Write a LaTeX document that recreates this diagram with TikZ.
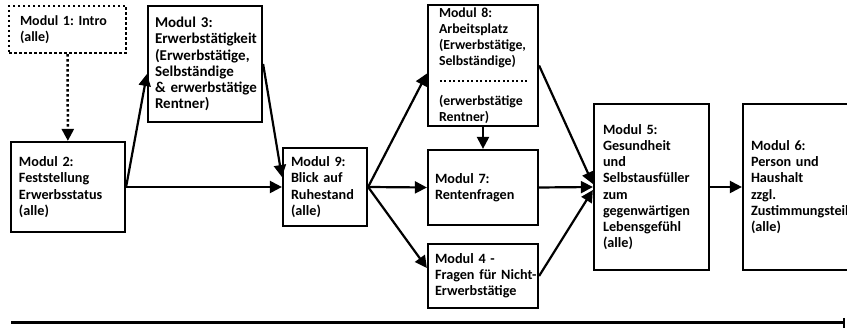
\documentclass[tikz,border=0pt]{standalone}
\usepackage{fontspec}
\setmainfont{Carlito}
\usetikzlibrary{arrows.meta, calc}

\newcommand{\modfont}[1]{\fontsize{#1}{16.2}\selectfont\bfseries\frenchspacing\hyphenpenalty=10000\exhyphenpenalty=10000}

\tikzset{
  modul/.style={draw, line width=2.2pt, align=left, inner xsep=8pt, inner ysep=0pt,
    font=\modfont{14.2}},
  punktiert/.style={line width=2.5pt, dash pattern=on 2.5pt off 2.5pt},
  pfeil/.style={line width=2.2pt, -{Triangle[length=12pt, width=12pt]}},
}

\begin{document}
\begin{tikzpicture}[x=1pt, y=-1pt]
  \clip (0,0) rectangle (847,328);
  % Module
  \node[modul, punktiert, minimum width=117, minimum height=47, text width=95, inner xsep=11pt, font=\modfont{14}] (m1) at (67.5,29.5) {Modul 1: Intro\\(alle)};
  \node[modul, minimum width=114, minimum height=90, text width=98] (m2) at (68,187) {Modul 2:\\Feststellung\\Erwerbsstatus\\(alle)};
  \node[modul, minimum width=114, minimum height=116, text width=100, inner xsep=7pt, font=\modfont{15}] (m3) at (205,64) {Modul 3:\\Erwerbstätigkeit\\(Erwerbstätige,\\Selbständige\\\&~erwerbstätige\\Rentner)};
  \node[modul, minimum width=84, minimum height=78, text width=68] (m9) at (325,187) {Modul 9:\\Blick~auf\\Ruhestand\\(alle)};
  \node[modul, minimum width=110, minimum height=121, text width=88, inner xsep=11pt, font=\modfont{13.8}] (m8) at (483,65.5) {Modul 8:\\Arbeitsplatz\\(Erwerbstätige,\\Selbständige)\\[23pt](erwerbstätige\\Rentner)};
  \node[modul, minimum width=110, minimum height=75, text width=96, inner xsep=7pt] (m7) at (483,187.5) {Modul 7:\\Rentenfragen};
  \node[modul, minimum width=110, minimum height=64, text width=96, inner xsep=7pt] (m4) at (483,276) {Modul 4 -\\Fragen~für~Nicht-\\Erwerbstätige};
  \node[modul, minimum width=115, minimum height=166, text width=97, inner xsep=9pt] (m5) at (651.5,187) {Modul 5:\\Gesundheit\\und\\Selbstausfüller\\zum\\gegenwärtigen\\Lebensgefühl\\(alle)};
  \node[modul, minimum width=130, minimum height=166, text width=114, inner xsep=8pt] (m6) at (808,187) {Modul 6:\\Person~und\\Haushalt\\zzgl.\\Zustimmungsteil\\(alle)};
  % Trennlinie in Modul 8
  \draw[punktiert, line width=2pt, dash pattern=on 2pt off 2.5pt] ($(m8.west)+(13,15.5)$) -- ($(m8.east)+(-12,15.5)$);
  % Pfeile
  \draw[pfeil, punktiert, line width=2.5pt] (m1) -- (m2);
  \draw[pfeil] (m2.east) -- ($(m3.west)+(0,10)$);
  \draw[pfeil] (m2.east) -- (m9.west);
  \draw[pfeil] (m3.east) -- ($(m9.west)+(0,-10)$);
  \draw[pfeil] (m9.east) -- ($(m8.west)+(0,8)$);
  \draw[pfeil] (m9.east) -- (m7.west);
  \draw[pfeil] (m9.east) -- ($(m4.west)+(0,-8)$);
  \draw[pfeil] (m8) -- (m7);
  \draw[pfeil] (m8.east) -- ($(m5.west)+(0,-3)$);
  \draw[pfeil] (m7.east) -- (m5.west);
  \draw[pfeil] (m4.east) -- ($(m5.west)+(0,3)$);
  \draw[pfeil] (m5) -- (m6);
  % Zeitachse
  \coordinate (start) at (11,323);
  \coordinate (ende) at (845,323);
  \draw[line width=3pt, -{Bar[width=10pt, line width=2pt]}] (start) -- (ende);
\end{tikzpicture}
\end{document}
